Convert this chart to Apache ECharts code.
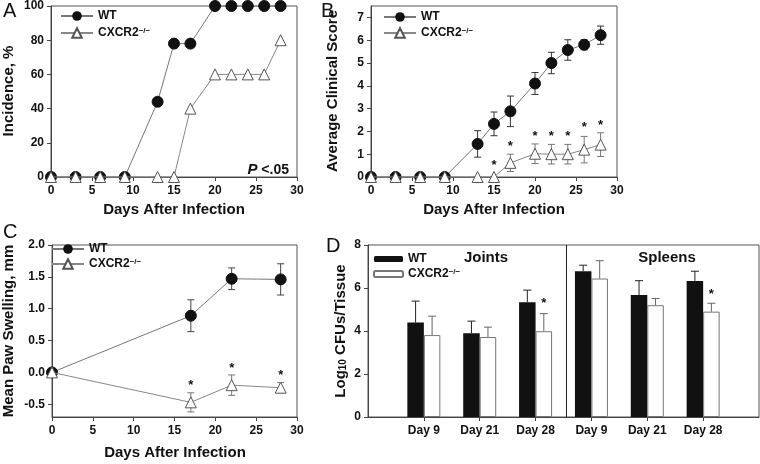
<!DOCTYPE html>
<html><head><meta charset="utf-8">
<script src="https://cdn.jsdelivr.net/npm/echarts@6/dist/echarts.min.js"></script>
<style>html,body{margin:0;padding:0;background:#fff}#c{width:760px;height:464px}#err{position:absolute;left:0;top:0;font:10px monospace;color:red}</style>
</head><body><div id="c"></div><div id="err"></div>
<script>
window.onerror = function (m, s, l, c) { document.getElementById('err').textContent += m + ' @' + l + ':' + c + ' | '; };
// ---------- data ----------
var days = [0,3,6,9,13,15,17,20,22,24,26,28];
var incidenceWT = [0,0,0,0,44,78,78,100,100,100,100,100];
var incidenceKO = [0,0,0,0,0,0,40,60,60,60,60,80];

var scoreWT    = [0,0,0,0,1.45,2.33,2.88,4.10,5.00,5.57,5.80,6.22];
var scoreWTErr = [0,0,0,0,0.58,0.52,0.67,0.48,0.47,0.45,0.22,0.40];
var scoreKO    = [0,0,0,0,0,0,0.62,1.02,1.00,1.00,1.20,1.42];
var scoreKOErr = [0,0,0,0,0,0,0.38,0.43,0.43,0.43,0.58,0.52];
var scoreStarDays = [15,17,20,22,24,26,28];
var scoreStarY    = [0.63,1.48,1.91,1.91,1.91,2.30,2.39];

var swellDays  = [0,17,22,28];
var swellWT    = [0,0.89,1.47,1.46];
var swellWTErr = [0,0.25,0.17,0.245];
var swellKO    = [0,-0.47,-0.20,-0.24];
var swellKOErr = [0,0.15,0.16,0.08];
var swellStarDays = [17,22,28];
var swellStarY    = [-0.16,0.11,0.0];

var cfuCats   = ['Day 9','Day 21','Day 28','Day 9','Day 21','Day 28'];
var cfuWT     = [4.39,3.90,5.34,6.78,5.67,6.33];
var cfuWTErr  = [1.00,0.56,0.56,0.28,0.67,0.45];
var cfuKO     = [3.81,3.72,3.99,6.44,5.20,4.90];
var cfuKOErr  = [0.88,0.46,0.82,0.83,0.31,0.39];
var cfuStarIdx = [2,5];
var cfuStarY   = [5.40,5.83];
var groupLabels = ['Joints','Spleens'];
var groupDivider = 3.55;

var yTicksA = [0,20,40,60,80,100];
var yTicksB = [0,1,2,3,4,5,6,7];
var yTicksC = [-0.5,0,0.5,1,1.5,2];
var yTicksD = [0,2,4,6,8];

// ---------- helpers ----------
var FONT = '"Liberation Sans", Arial, sans-serif';
var cfuPos = cfuCats.map(function (_, i) { return i + 1; });
function pairs(xs, ys) { return xs.map(function (x, i) { return [x, ys[i]]; }); }
function triples(xs, ys, es) { return xs.map(function (x, i) { return [x, ys[i], es[i]]; }).filter(function (d) { return d[2] > 0; }); }

function errRender(color, cap, both, dx) {
  return function (params, api) {
    var x = api.value(0), y = api.value(1), e = api.value(2);
    var top = api.coord([x, y + e]);
    var bot = both ? api.coord([x, y - e]) : api.coord([x, y]);
    var cx = top[0] + (dx || 0);
    var st = {stroke: color, lineWidth: 1};
    var ch = [
      {type: 'line', shape: {x1: cx, y1: top[1], x2: cx, y2: bot[1]}, style: st},
      {type: 'line', shape: {x1: cx - cap, y1: top[1], x2: cx + cap, y2: top[1]}, style: st}
    ];
    if (both) ch.push({type: 'line', shape: {x1: cx - cap, y1: bot[1], x2: cx + cap, y2: bot[1]}, style: st});
    return {type: 'group', children: ch};
  };
}
function starRender(dx) {
  return function (params, api) {
    var p = api.coord([api.value(0), api.value(1)]);
    return {type: 'text', x: p[0] + (dx || 0), y: p[1] + 3,
      style: {text: '*', fill: '#111', font: 'bold 13px ' + FONT, align: 'center', verticalAlign: 'middle'}};
  };
}
function dividerRender(params, api) {
  var cs = params.coordSys;
  var p = api.coord([api.value(0), 0]);
  var x = Math.round(p[0]) + 0.5;
  return {type: 'line', shape: {x1: x, y1: cs.y, x2: x, y2: cs.y + cs.height}, style: {stroke: '#222', lineWidth: 1}};
}

var labelStyle = {fontSize: 12, fontWeight: 'bold', color: '#111', fontFamily: FONT};
var lineCol = '#444';
function xAxisDays(gi) {
  return {gridIndex: gi, type: 'value', min: 0, max: 30, interval: 5,
    axisLine: {show: true, onZero: false, lineStyle: {color: lineCol}},
    axisTick: {show: true, length: 4, lineStyle: {color: lineCol}},
    axisLabel: Object.assign({margin: 8}, labelStyle),
    splitLine: {show: false}};
}
function yAxisVal(gi, min, max, ticks, fmt) {
  return {gridIndex: gi, type: 'value', min: min, max: max,
    axisLine: {show: true, onZero: false, lineStyle: {color: lineCol}},
    axisTick: {show: true, length: 4, lineStyle: {color: lineCol}, customValues: ticks},
    axisLabel: Object.assign({margin: 7, customValues: ticks, formatter: fmt}, labelStyle),
    splitLine: {show: false}};
}
var legendText = {
  fontSize: 12, fontWeight: 'bold', color: '#111', fontFamily: FONT,
  rich: {sup: {fontSize: 8, fontWeight: 'bold', color: '#111', fontFamily: FONT, verticalAlign: 'top', lineHeight: 8}}
};
function legendFmt(n) { return n.indexOf('CXCR2') === 0 ? 'CXCR2{sup|−/−}' : 'WT'; }
function lineLegend(left, top, gap) {
  return {left: left, top: top, orient: 'vertical', itemWidth: 32, itemHeight: 12, itemGap: gap,
    padding: 0, selectedMode: false, data: ['WT', 'CXCR2'], formatter: legendFmt, textStyle: legendText};
}

var wtLine = {symbol: 'circle', symbolSize: 11, itemStyle: {color: '#111', borderColor: '#111'},
  lineStyle: {color: '#777', width: 1}, z: 4, clip: false};
var koLine = {symbol: 'triangle', symbolSize: 11, itemStyle: {color: '#fff', borderColor: '#555', borderWidth: 1},
  lineStyle: {color: '#888', width: 1}, z: 5, clip: false};

function mk(base, extra) { return Object.assign({}, base, extra); }

var grids = [
  {left: 51, top: 6, width: 246, height: 171},
  {left: 371, top: 6, width: 246, height: 171},
  {left: 52, top: 245, width: 245, height: 172},
  {left: 368, top: 245, width: 391, height: 172}
].map(function (g) { return Object.assign({show: true, borderColor: '#555', borderWidth: 1, backgroundColor: 'transparent'}, g); });

function title(x, y, text, rot, size) {
  return {type: 'text', x: x, y: y, rotation: rot ? Math.PI / 2 : 0,
    style: {text: text, font: 'bold ' + (size || 15) + 'px ' + FONT, fill: '#111', align: 'center', verticalAlign: 'middle',
      rich: {s: {fontSize: 10, fontWeight: 'bold', fontFamily: FONT, fill: '#111', verticalAlign: 'bottom'},
             b: {fontSize: 15, fontWeight: 'bold', fontFamily: FONT, fill: '#111'}}}};
}
function letter(x, y, t) {
  return {type: 'text', x: x, y: y, style: {text: t, font: '20px ' + FONT, fill: '#111', align: 'left', verticalAlign: 'top'}};
}

var option = {
  animation: false,
  backgroundColor: '#fff',
  grid: grids,
  xAxis: [
    xAxisDays(0), xAxisDays(1), xAxisDays(2),
    {gridIndex: 3, type: 'value', min: 0, max: 7,
      axisLine: {show: true, onZero: false, lineStyle: {color: lineCol}},
      axisTick: {show: true, length: 4, lineStyle: {color: lineCol}, customValues: cfuPos},
      axisLabel: Object.assign({margin: 8, customValues: cfuPos, formatter: function (v) { return cfuCats[Math.round(v) - 1] || ''; }}, labelStyle),
      splitLine: {show: false}}
  ],
  yAxis: [
    yAxisVal(0, 0, 100, yTicksA, function (v) { return String(v); }),
    yAxisVal(1, 0, 7.5, yTicksB, function (v) { return String(v); }),
    yAxisVal(2, -0.7, 2.0, yTicksC, function (v) { return v.toFixed(1); }),
    yAxisVal(3, 0, 8, yTicksD, function (v) { return String(v); })
  ],
  legend: [
    lineLegend(60, 10, 5),
    lineLegend(383, 11, 4),
    lineLegend(51, 243, 3),
    {left: 373, top: 253, orient: 'vertical', itemWidth: 29, itemHeight: 6, itemGap: 3, padding: 0,
      selectedMode: false, data: ['WT ', 'CXCR2 '], formatter: legendFmt, textStyle: legendText}
  ],
  series: [
    mk(wtLine, {type: 'line', name: 'WT', xAxisIndex: 0, yAxisIndex: 0, data: pairs(days, incidenceWT)}),
    mk(koLine, {type: 'line', name: 'CXCR2', xAxisIndex: 0, yAxisIndex: 0, data: pairs(days, incidenceKO)}),
    {type: 'custom', xAxisIndex: 1, yAxisIndex: 1, z: 2, renderItem: errRender('#333', 3.5, true), data: triples(days, scoreWT, scoreWTErr)},
    {type: 'custom', xAxisIndex: 1, yAxisIndex: 1, z: 3, renderItem: errRender('#777', 3.5, true), data: triples(days, scoreKO, scoreKOErr)},
    mk(wtLine, {type: 'line', name: 'WT', xAxisIndex: 1, yAxisIndex: 1, data: pairs(days, scoreWT)}),
    mk(koLine, {type: 'line', name: 'CXCR2', xAxisIndex: 1, yAxisIndex: 1, data: pairs(days, scoreKO)}),
    {type: 'custom', xAxisIndex: 1, yAxisIndex: 1, z: 6, renderItem: starRender(0), data: pairs(scoreStarDays, scoreStarY)},
    {type: 'custom', xAxisIndex: 2, yAxisIndex: 2, z: 2, renderItem: errRender('#444', 3.5, true), data: triples(swellDays, swellWT, swellWTErr)},
    {type: 'custom', xAxisIndex: 2, yAxisIndex: 2, z: 3, renderItem: errRender('#777', 3.5, true), data: triples(swellDays, swellKO, swellKOErr)},
    mk(wtLine, {type: 'line', name: 'WT', xAxisIndex: 2, yAxisIndex: 2, data: pairs(swellDays, swellWT)}),
    mk(koLine, {type: 'line', name: 'CXCR2', xAxisIndex: 2, yAxisIndex: 2, data: pairs(swellDays, swellKO)}),
    {type: 'custom', xAxisIndex: 2, yAxisIndex: 2, z: 6, renderItem: starRender(0), data: pairs(swellStarDays, swellStarY)},
    {type: 'bar', name: 'WT ', xAxisIndex: 3, yAxisIndex: 3, barWidth: 16.5, barGap: '0%',
      itemStyle: {color: '#111'}, data: pairs(cfuPos, cfuWT)},
    {type: 'bar', name: 'CXCR2 ', xAxisIndex: 3, yAxisIndex: 3, barWidth: 16.5, barGap: '0%',
      itemStyle: {color: '#fff', borderColor: '#777', borderWidth: 1}, data: pairs(cfuPos, cfuKO)},
    {type: 'custom', xAxisIndex: 3, yAxisIndex: 3, z: 3, renderItem: dividerRender, data: [[groupDivider, 0]]},
    {type: 'custom', xAxisIndex: 3, yAxisIndex: 3, z: 3, renderItem: errRender('#222', 4, false, -8.25), data: triples(cfuPos, cfuWT, cfuWTErr)},
    {type: 'custom', xAxisIndex: 3, yAxisIndex: 3, z: 3, renderItem: errRender('#666', 4, false, 8.25), data: triples(cfuPos, cfuKO, cfuKOErr)},
    {type: 'custom', xAxisIndex: 3, yAxisIndex: 3, z: 6, renderItem: starRender(8.25), data: cfuStarIdx.map(function (k, i) { return [cfuPos[k], cfuStarY[i]]; })}
  ],
  graphic: [
    letter(3, 1, 'A'), letter(321, 1, 'B'), letter(3, 222, 'C'), letter(326, 236, 'D'),
    title(9, 91, 'Incidence, %', true),
    title(333, 91, 'Average Clinical Score', true),
    title(9, 331, 'Mean Paw Swelling, mm', true, 15),
    title(341, 331, '{b|Log}{s|10}{b| CFUs/Tissue}', true),
    title(174, 210, 'Days After Infection'),
    title(494, 210, 'Days After Infection'),
    title(175, 453, 'Days After Infection'),
    title(486, 258, groupLabels[0]),
    title(667, 258, groupLabels[1]),
    {type: 'text', x: 289, y: 170, style: {text: '{i|P} <.05', font: 'bold 14px ' + FONT, fill: '#111', align: 'right', verticalAlign: 'middle',
      rich: {i: {fontStyle: 'italic', fontWeight: 'bold', fontSize: 15, fontFamily: FONT, fill: '#111'}}}}
  ]
};
var chart = echarts.init(document.getElementById('c'));
window.chart = chart;
chart.setOption(option);
</script></body></html>
